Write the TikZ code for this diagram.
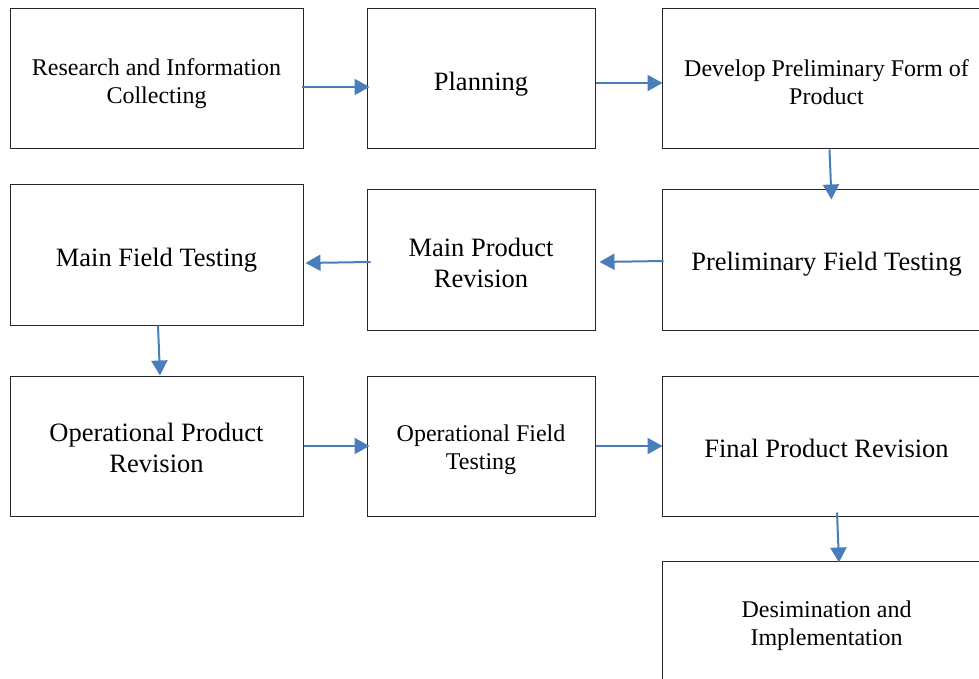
\documentclass[tikz,border=0pt]{standalone}
\usepackage{fontspec}
\setmainfont{Liberation Serif}
\usetikzlibrary{arrows.meta,calc}
\definecolor{arrowblue}{RGB}{74,126,187}
\begin{document}
\begin{tikzpicture}[x=1pt,y=-1pt,
  box/.style={draw=black!85,line width=1pt,inner sep=0pt,minimum height=140pt},
  lab/.style={align=center,inner sep=0pt},
  small/.style={font=\fontsize{24}{28}\selectfont},
  big/.style={font=\fontsize{26.5}{30.5}\selectfont},
  flow/.style={draw=arrowblue,line width=2pt,-{Triangle[length=15pt,width=16pt]}}]
\clip (0,0) rectangle (979,679);
\fill[white] (0,0) rectangle (979,679);
\node[box,minimum width=293pt,label={[lab,small,yshift=-4.5pt]center:Research and Information\\Collecting}] (b1) at (156.5,79) {};
\node[box,minimum width=228pt,label={[lab,big,yshift=-5pt]center:Planning}] (b2) at (481,79) {};
\node[box,minimum width=329pt,label={[lab,small,yshift=-3pt]center:Develop Preliminary Form of\\Product}] (b3) at (826.5,79) {};
\node[box,minimum width=293pt,label={[lab,big,yshift=-5pt]center:Main Field Testing}] (b4) at (156.5,255) {};
\node[box,minimum width=228pt,label={[lab,big,yshift=-3pt]center:Main Product\\Revision}] (b5) at (481,260) {};
\node[box,minimum width=329pt,label={[lab,big,yshift=-4pt]center:Preliminary Field Testing}] (b6) at (826.5,260) {};
\node[box,minimum width=293pt,label={[lab,big,yshift=-2pt]center:Operational Product\\Revision}] (b7) at (156.5,446) {};
\node[box,minimum width=228pt,label={[lab,small,yshift=-4pt]center:Operational Field\\Testing}] (b8) at (481,446) {};
\node[box,minimum width=329pt,label={[lab,big,yshift=-2pt]center:Final Product Revision}] (b9) at (826.5,446) {};
\node[box,minimum width=329pt,minimum height=122pt,label={[lab,small,yshift=-4pt]center:Desimination and\\Implementation}] (b10) at (826.5,622) {};
\draw[flow] ([xshift=-2pt,yshift=-8pt]b1.east) -- ([xshift=3pt,yshift=-8pt]b2.west);
\draw[flow] ([yshift=-4pt]b2.east) -- ([xshift=1pt,yshift=-4pt]b3.west);
\draw[flow] ([xshift=3pt]b3.south) -- ([xshift=5pt,yshift=-10pt]b6.north);
\draw[flow] ([xshift=4pt,yshift=-2pt]b5.west) -- ([xshift=2pt,yshift=-8pt]b4.east);
\draw[flow] ([xshift=2pt,yshift=-1pt]b6.west) -- ([xshift=4pt,yshift=-2pt]b5.east);
\draw[flow] ([xshift=1.5pt]b4.south) -- ([xshift=3.5pt]b7.north);
\draw[flow] (b7.east) -- ([xshift=3pt]b8.west);
\draw[flow] (b8.east) -- ([xshift=1pt]b9.west);
\draw[flow] ([xshift=10.5pt,yshift=4pt]b9.south) -- ([xshift=12.5pt,yshift=-2pt]b10.north);
\end{tikzpicture}
\end{document}
